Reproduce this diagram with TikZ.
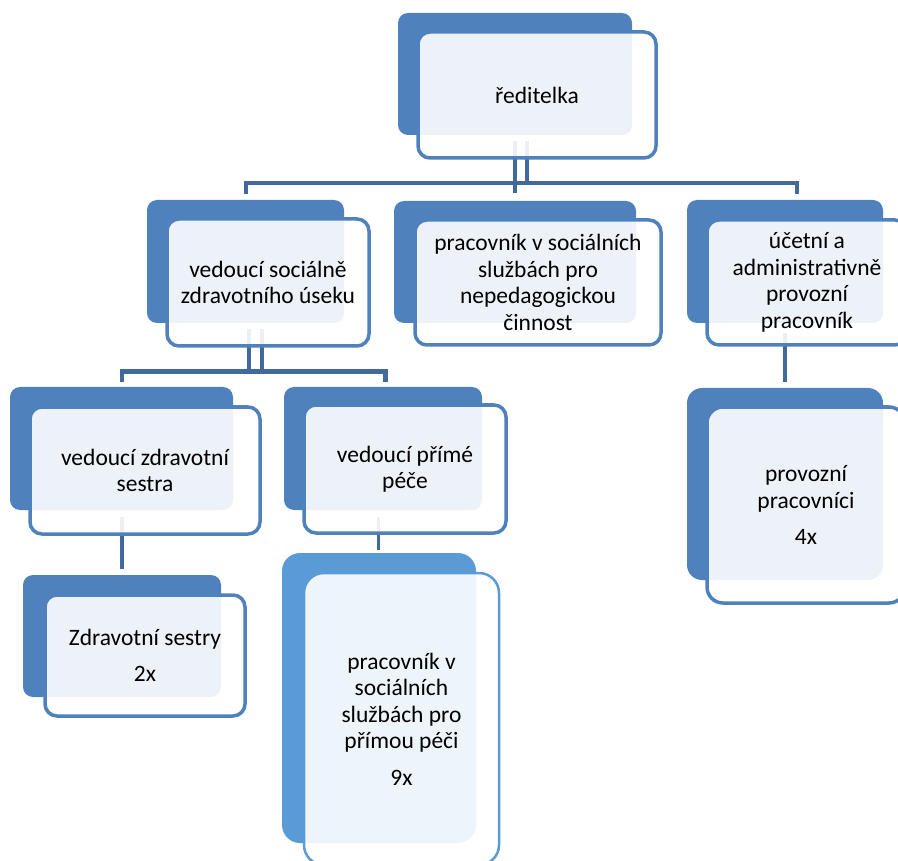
\documentclass[tikz,border=0pt]{standalone}
\usepackage{fontspec}
\setmainfont{Carlito}
\usetikzlibrary{calc}
\pgfdeclarelayer{bg}
\pgfsetlayers{bg,main}
\definecolor{dk}{HTML}{4F81BD}
\definecolor{lt}{HTML}{5B9BD5}
\definecolor{cn}{HTML}{41699C}
\tikzset{
  backbox/.style={fill=dk, draw=none, rounded corners=10pt, inner sep=0pt},
  frontbox/.style={draw=dk, line width=3.5pt, fill=white, fill opacity=0.9, text opacity=1,
    rounded corners=12pt, inner sep=0pt, align=center, text=black,
    font=\fontsize{23.5}{26.5}\selectfont},
  conn/.style={draw=cn, line width=4.8pt},
  thinconn/.style={draw=cn, line width=3pt}
}
\begin{document}
\begin{tikzpicture}[x=1pt,y=-1pt]
\useasboundingbox (0,0) rectangle (898,861);
\clip (0,0) rectangle (898,861);
% back boxes
\node[backbox, minimum width=234pt, minimum height=122pt] (rB) at (515,74) {};
\node[backbox, minimum width=197pt, minimum height=123pt] (sB) at (245.5,261.5) {};
\node[backbox, minimum width=242pt, minimum height=122pt] (pB) at (515,262) {};
\node[backbox, minimum width=196pt, minimum height=123pt] (uB) at (785,261.5) {};
\node[backbox, minimum width=223pt, minimum height=123pt] (vB) at (121.5,448.5) {};
\node[backbox, minimum width=198pt, minimum height=123pt] (wB) at (383,448.5) {};
\node[backbox, minimum width=196pt, minimum height=192pt, rounded corners=15pt] (oB) at (785,484) {};
\node[backbox, minimum width=198pt, minimum height=122pt] (zB) at (122,636) {};
\node[backbox, fill=lt, minimum width=194pt, minimum height=290pt, rounded corners=18pt] (qB) at (379,698) {};
% front boxes
\node[frontbox, minimum width=238pt, minimum height=126pt] (rF) at (537,95) {ředitelka};
\node[frontbox, minimum width=202pt, minimum height=127pt] (sF) at (268,282.5) {vedoucí sociálně\\zdravotního úseku};
\node[frontbox, minimum width=246pt, minimum height=125pt] (pF) at (538,282.5) {pracovník v sociálních\\službách pro\\nepedagogickou\\činnost};
\node[frontbox, minimum width=200pt, minimum height=125pt] (uF) at (807,282.5) {účetní a\\administrativně\\provozní\\pracovník};
\node[frontbox, minimum width=230pt, minimum height=127pt] (vF) at (145,470.5) {vedoucí zdravotní\\sestra};
\node[frontbox, minimum width=202pt, minimum height=128pt] (wF) at (405,469) {vedoucí přímé\\péče};
\node[frontbox, minimum width=198pt, minimum height=196pt, rounded corners=16pt] (oF) at (806,505) {provozní\\pracovníci\\[10pt]4x};
\node[frontbox, minimum width=200pt, minimum height=121pt] (zF) at (145,655.5) {Zdravotní sestry\\[10pt]2x};
\node[frontbox, draw=lt, line width=2.5pt, minimum width=195pt, minimum height=292pt, rounded corners=20pt] (qF) at (401.5,719) {pracovník v\\sociálních\\službách pro\\přímou péči\\[10pt]9x};
% connectors
\begin{pgfonlayer}{bg}
\coordinate (bus1) at (0,183);
\coordinate (bus2) at (0,371.5);
\draw[conn] ($(rB.south)+(0,6)$) -- ($(pB.north)+(0,-8)$);
\draw[conn] ($(rB.south)+(12,6)$) -- ($(rB.south |- bus1)+(12,0)$);
\draw[conn] ($(sB.north)+(0.5,-6)$) |- ($(uB.north |- bus1)+(12,0)$) -- ($(uB.north)+(12,-6)$);
\draw[conn] ($(sB.south)+(3.5,6)$) -- ($(sB.south |- bus2)+(3.5,0)$);
\draw[conn] ($(sB.south)+(16.5,6)$) -- ($(sB.south |- bus2)+(16.5,0)$);
\draw[conn] ($(vB.north)+(0.5,-5)$) |- ($(wB.north |- bus2)+(2.5,0)$) -- ($(wB.north)+(2.5,-5)$);
\draw[conn] ($(vB.south)+(0.5,7)$) -- ($(zB.north)+(0,-6)$);
\draw[thinconn] ($(wB.south)+(-4.5,7)$) -- ($(wB.south |- qB.north)+(-4.5,-3)$);
\draw[conn] ($(uB.south)+(0,10)$) -- ($(oB.north)+(0,-6)$);
\end{pgfonlayer}
\end{tikzpicture}
\end{document}
